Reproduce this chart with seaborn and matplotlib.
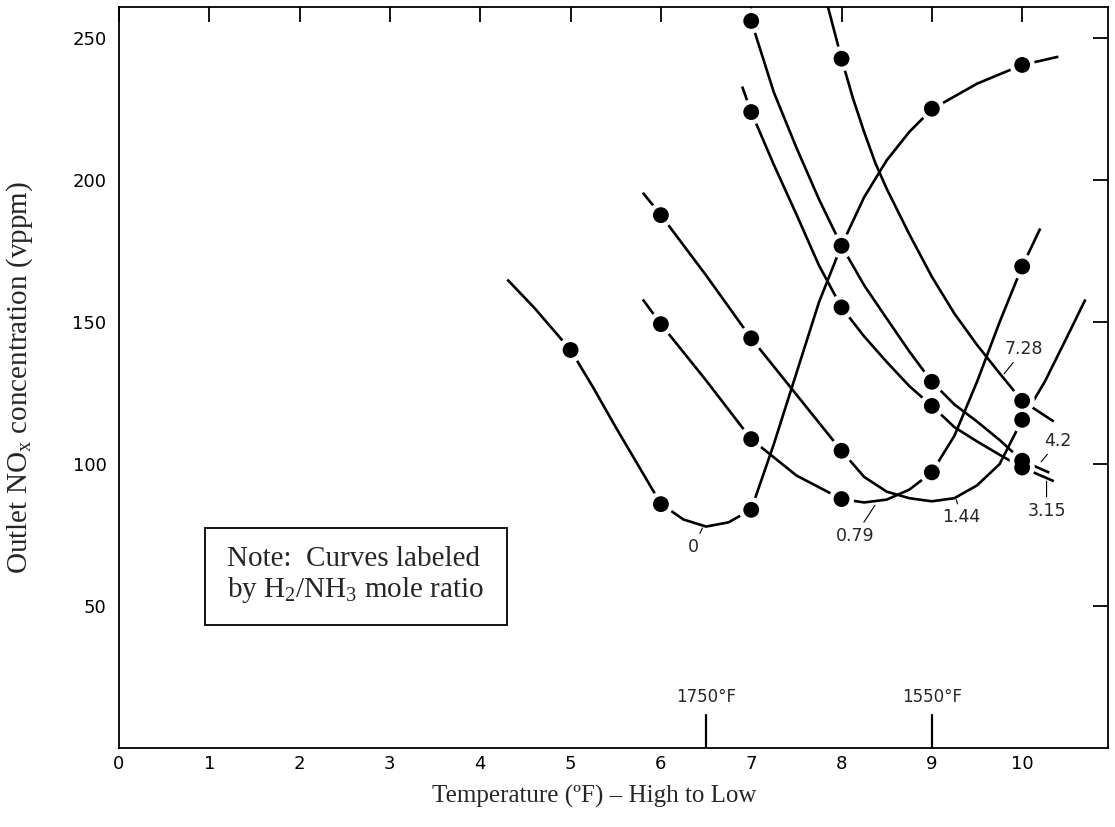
import numpy as np
import pandas as pd
import matplotlib
matplotlib.use("Agg")
import matplotlib.pyplot as plt
import matplotlib.transforms as mtransforms
from matplotlib.patches import Rectangle
import seaborn as sns

# ---------------- data ----------------
ratio_labels = ["0", "0.79", "1.44", "3.15", "4.2", "7.28"]

# measured points (filled dots)
pts_x_0 = [5, 6, 7, 9, 10]
pts_y_0 = [140.2, 85.9, 83.9, 225.2, 240.6]
pts_x_079 = [6, 7, 8, 9, 10]
pts_y_079 = [149.3, 108.8, 87.7, 97.1, 169.6]
pts_x_144 = [6, 7, 8, 10]
pts_y_144 = [187.7, 144.3, 104.7, 115.6]
pts_x_315 = [7, 8, 9, 10]
pts_y_315 = [224.0, 155.2, 120.5, 98.8]
pts_x_42 = [7, 8, 9, 10]
pts_y_42 = [256.1, 176.9, 129.0, 101.2]
pts_x_728 = [8, 10]
pts_y_728 = [242.8, 122.3]

# hand-drawn curves
curve_x_0 = [4.3, 4.6, 5.0, 5.25, 5.5, 5.75, 6.0, 6.25, 6.5, 6.75, 7.0, 7.25, 7.5, 7.75, 8.0,
             8.25, 8.5, 8.75, 9.0, 9.5, 10.0, 10.4]
curve_y_0 = [165, 155, 140.2, 127, 113, 99.5, 86, 80.5, 78, 79.5, 84, 107, 132, 157, 177,
             194, 207, 217, 225, 234, 240.6, 243.5]
curve_x_079 = [5.8, 6.0, 6.5, 7.0, 7.5, 8.0, 8.25, 8.5, 8.75, 9.0, 9.25, 9.5, 9.75, 10.0, 10.2]
curve_y_079 = [158, 149.3, 129.5, 108.8, 96, 87.7, 86.5, 87.5, 91, 97.1, 110, 129, 150, 169.6, 183]
curve_x_144 = [5.8, 6.0, 6.5, 7.0, 7.5, 8.0, 8.25, 8.5, 8.75, 9.0, 9.25, 9.5, 9.75, 10.0, 10.25, 10.5, 10.7]
curve_y_144 = [195.6, 187.7, 166.5, 144.3, 124.5, 104.7, 95.5, 90.3, 88, 86.9, 88, 92.5, 100, 115.6, 129, 145, 158]
curve_x_315 = [6.9, 7.0, 7.25, 7.5, 7.75, 8.0, 8.25, 8.5, 8.75, 9.0, 9.25, 9.5, 9.75, 10.0, 10.35]
curve_y_315 = [233, 224, 205.5, 188, 170, 155.2, 145, 136, 127.5, 120.5, 113, 108, 103.3, 98.8, 94]
curve_x_42 = [7.0, 7.25, 7.5, 7.75, 8.0, 8.25, 8.5, 8.75, 9.0, 9.25, 9.5, 9.75, 10.0, 10.3]
curve_y_42 = [256.1, 231, 211.5, 193.3, 176.9, 163, 151.3, 139.7, 129, 121, 115, 108.5, 101.2, 97]
curve_x_728 = [7.85, 8.0, 8.125, 8.25, 8.375, 8.5, 8.625, 8.75, 9.0, 9.25, 9.5, 9.75, 10.0, 10.35]
curve_y_728 = [261, 242.8, 229, 217, 206, 197, 189, 181, 166, 153, 142, 132, 122.3, 115]

x_ticks = [0, 1, 2, 3, 4, 5, 6, 7, 8, 9, 10]
y_ticks = [50, 100, 150, 200, 250]
temp_mark_x = [6.5, 9]
temp_mark_lbl = ["1750\u00b0F", "1550\u00b0F"]

# ---------------- build tables ----------------
pts = [(pts_x_0, pts_y_0), (pts_x_079, pts_y_079), (pts_x_144, pts_y_144),
       (pts_x_315, pts_y_315), (pts_x_42, pts_y_42), (pts_x_728, pts_y_728)]
curves = [(curve_x_0, curve_y_0), (curve_x_079, curve_y_079), (curve_x_144, curve_y_144),
          (curve_x_315, curve_y_315), (curve_x_42, curve_y_42), (curve_x_728, curve_y_728)]

dots = pd.concat([pd.DataFrame({"x": px, "y": py, "ratio": lab})
                  for lab, (px, py) in zip(ratio_labels, pts)], ignore_index=True)
lines = pd.concat([pd.DataFrame({"x": cx, "y": cy, "ratio": lab})
                   for lab, (cx, cy) in zip(ratio_labels, curves)], ignore_index=True)

# ---------------- figure ----------------
sns.set_theme(style="white")
plt.rcParams["font.family"] = ["DejaVu Sans"]
plt.rcParams["mathtext.fontset"] = "custom"
plt.rcParams["mathtext.rm"] = "Liberation Serif"
plt.rcParams["mathtext.it"] = "Liberation Serif:italic"

fig = plt.figure(figsize=(11.15, 8.27), dpi=100)
ax = fig.add_axes([0.1067, 0.0955, 0.887, 0.896])

sns.lineplot(data=lines, x="x", y="y", units="ratio", estimator=None, sort=False,
             color="black", linewidth=1.9, ax=ax, legend=False, zorder=2)
for ln in ax.lines:
    ln.set_solid_joinstyle("round")
    ln.set_solid_capstyle("butt")
sns.scatterplot(data=dots, x="x", y="y", s=330, color="white", edgecolor="none",
                ax=ax, legend=False, zorder=3)
sns.scatterplot(data=dots, x="x", y="y", s=130, color="black", edgecolor="none",
                ax=ax, legend=False, zorder=4)

ax.set_xlim(0, 10.95)
ax.set_ylim(0, 261)
ax.set_xticks(x_ticks)
ax.set_yticks(y_ticks)
ax.tick_params(direction="in", length=11, width=1.3, top=True, right=True,
               labelsize=13, colors="black")
ax.tick_params(axis="y", pad=9)
ax.tick_params(axis="x", pad=5)
for s in ax.spines.values():
    s.set_color("black")
    s.set_linewidth(1.3)
    s.set_visible(True)

# temperature reference marks on the x axis
trans = mtransforms.blended_transform_factory(ax.transData, ax.transAxes)
for xm, lbl in zip(temp_mark_x, temp_mark_lbl):
    ax.axvline(xm, ymin=0, ymax=0.044, color="black", lw=1.6)
    ax.text(xm, 0.057, lbl, transform=trans, ha="center", va="bottom", fontsize=12)

# curve labels
label_pos = {"0": ((6.36, 70.8), (6.46, 77.5)),
             "0.79": ((8.15, 74.8), (8.37, 85.5)),
             "1.44": ((9.33, 81.2), (9.27, 87.5)),
             "3.15": ((10.27, 83.6), (10.27, 94.0)),
             "4.2": ((10.4, 108.2), (10.21, 100.8)),
             "7.28": ((10.02, 140.5), (9.8, 131.8))}
for lab in ratio_labels:
    (tx, ty), (px_, py_) = label_pos[lab]
    ax.annotate(lab, xy=(px_, py_), xytext=(tx, ty), ha="center", va="center",
                fontsize=12.5, arrowprops=dict(arrowstyle="-", color="black", lw=0.8,
                                               shrinkA=1, shrinkB=0))

serif = ["Liberation Serif", "DejaVu Serif"]
ax.set_xlabel("Temperature (\u00baF) \u2013 High to Low", fontsize=18, family=serif)
ax.set_ylabel("Outlet NO$_\\mathrm{x}$ concentration (vppm)", fontsize=21, family=serif)
ax.xaxis.set_label_coords(0.48, -0.05)
ax.yaxis.set_label_coords(-0.085, 0.5)

# note box
ax.add_patch(Rectangle((0.087, 0.166), 0.305, 0.131, transform=ax.transAxes,
                       fill=False, edgecolor="black", lw=1.3, zorder=5))
ax.text(0.109, 0.2325, "Note:  Curves labeled\nby H$_\\mathrm{2}$/NH$_\\mathrm{3}$ mole ratio",
        transform=ax.transAxes, ha="left", va="center", fontsize=21, family=serif,
        linespacing=1.15, zorder=6)

fig.savefig("out.png", dpi=100, facecolor="white")
